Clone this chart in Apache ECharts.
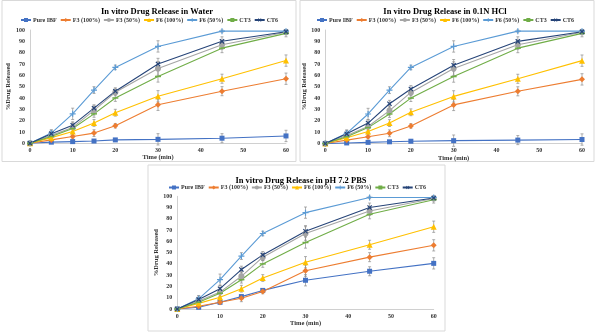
<!DOCTYPE html>
<html>
<head>
<meta charset="utf-8">
<script src="https://cdn.jsdelivr.net/npm/echarts@6/dist/echarts.min.js"></script>
<style>
html,body{margin:0;padding:0;background:#fff;}
#c{width:596px;height:333px;}
</style>
</head>
<body>
<div id="c"></div>
<script>
var times = [0, 5, 10, 15, 20, 30, 45, 60];
var seriesNames = ['Pure IBF', 'F3 (100%)', 'F3 (50%)', 'F6 (100%)', 'F6 (50%)', 'CT3', 'CT6'];
var panelTitles = ['In vitro Drug Release in Water', 'In vitro Drug Release in 0.1N HCl', 'In vitro Drug Release in pH 7.2 PBS'];
var yTicks = [0, 10, 20, 30, 40, 50, 60, 70, 80, 90, 100];

// Water
var waterPureIBF = [0, 1, 1.5, 2, 3, 3.5, 4.5, 6.5];
var waterF3_100 = [0, 3, 6, 9, 15.5, 34, 46, 57];
var waterF3_50 = [0, 7, 14, 29, 45, 66, 87, 98];
var waterF6_100 = [0, 5, 10.5, 18, 27, 41.5, 57, 73];
var waterF6_50 = [0, 9, 26, 47, 67, 85.5, 99, 99];
var waterCT3 = [0, 6, 13, 26, 40, 59, 84, 97];
var waterCT6 = [0, 8.5, 16, 31, 46, 70, 90, 98.5];

// 0.1N HCl
var hclPureIBF = [0, 0.5, 1, 1.5, 2, 2.5, 3, 3.5];
var hclF3_100 = [0, 3, 6, 9, 15.5, 34, 46, 56.5];
var hclF3_50 = [0, 7, 15, 29, 45, 66, 87, 98];
var hclF6_100 = [0, 5, 10.5, 18, 27.5, 41.5, 57, 73];
var hclF6_50 = [0, 9, 26, 47, 67, 85.5, 99, 99];
var hclCT3 = [0, 6, 14, 26, 40, 59, 84, 97];
var hclCT6 = [0, 8.5, 18, 35, 48, 69, 90, 98.5];

// pH 7.2 PBS
var pbsPureIBF = [0, 1.5, 6, 11, 16.5, 25.5, 33.5, 40.5];
var pbsF3_100 = [0, 2.5, 6, 9.5, 15.5, 34, 46, 56.5];
var pbsF3_50 = [0, 7, 15, 29, 46, 67, 87, 98];
var pbsF6_100 = [0, 5, 10.5, 18, 27.5, 41.5, 57, 73];
var pbsF6_50 = [0, 9, 26, 47, 67, 85.5, 99, 99];
var pbsCT3 = [0, 6, 14, 26, 40, 59, 84, 97];
var pbsCT6 = [0, 8.5, 18, 35, 48, 69, 90, 98.5];

// standard deviations (error bars)
var errPureIBF = [0, 1, 1, 1, 1, 5, 4, 5];
var errF3_100 = [0, 1, 2, 3, 2, 5, 4, 5];
var errF3_50 = [0, 3, 4, 4, 3, 6, 4, 2];
var errF6_100 = [0, 2, 2, 3, 3, 5, 4, 5];
var errF6_50 = [0, 3, 5, 3, 2, 5, 1, 1];
var errCT3 = [0, 2, 3, 3, 3, 5, 4, 3];
var errCT6 = [0, 3, 3, 3, 3, 5, 4, 2];

var panelData = [
  [waterPureIBF, waterF3_100, waterF3_50, waterF6_100, waterF6_50, waterCT3, waterCT6],
  [hclPureIBF, hclF3_100, hclF3_50, hclF6_100, hclF6_50, hclCT3, hclCT6],
  [pbsPureIBF, pbsF3_100, pbsF3_50, pbsF6_100, pbsF6_50, pbsCT3, pbsCT6]
];
var errData = [errPureIBF, errF3_100, errF3_50, errF6_100, errF6_50, errCT3, errCT6];

var colors = ['#4472C4', '#ED7D31', '#A5A5A5', '#FFC000', '#5B9BD5', '#70AD47', '#264478'];
var plusPath = 'path://M4,0h2v4h4v2h-4v4h-2v-4h-4v-2h4z';
var symbols = ['rect', 'diamond', 'circle', 'triangle', plusPath, 'rect', plusPath];
var symbolSizes = [5, 6, 6, 6, 6, [6, 1.5], 6];
var symbolRotates = [0, 0, 0, 0, 0, 0, 45];

var FONT = 'Liberation Serif';
var grids = [
  {left: 30, top: 30, width: 256, height: 113.3},
  {left: 325.3, top: 30, width: 256.7, height: 113.5},
  {left: 177.3, top: 196.3, width: 256.4, height: 112.7}
];
var titlePos = [[152, 2.5], [440, 2.5], [296, 171.5]];
var legendPos = [[20, 17], [316, 17], [168, 184.5]];
var boxes = [[2, 0.5, 294, 161], [300, 0.5, 294, 161], [148, 165, 297, 166]];

var option = {
  animation: false,
  backgroundColor: '#fff',
  color: colors,
  title: [],
  legend: [],
  grid: grids,
  xAxis: [],
  yAxis: [],
  series: [],
  graphic: []
};

for (var p = 0; p < 3; p++) {
  option.title.push({
    text: panelTitles[p], left: titlePos[p][0], top: titlePos[p][1], textAlign: 'center',
    textStyle: {fontFamily: FONT, fontWeight: 'bold', fontSize: 8.5, color: '#000'}
  });
  option.legend.push({
    data: seriesNames, left: legendPos[p][0], top: legendPos[p][1], width: 320,
    itemWidth: 10, itemHeight: 5, itemGap: 3, padding: 0,
    textStyle: {fontFamily: FONT, fontWeight: 'bold', fontSize: 6, color: '#333', padding: [0, 0, 0, -3]}
  });
  option.xAxis.push({
    type: 'value', gridIndex: p, min: 0, max: 60, interval: 10,
    name: 'Time (min)', nameLocation: 'middle', nameGap: 9,
    nameTextStyle: {fontFamily: FONT, fontWeight: 'bold', fontSize: 6.5, color: '#333'},
    axisLine: {show: true, onZero: false, lineStyle: {color: '#d0d0d0', width: 1}},
    axisTick: {show: false},
    splitLine: {show: false},
    axisLabel: {fontFamily: FONT, fontWeight: 'bold', fontSize: 6, color: '#333', margin: 4}
  });
  option.yAxis.push({
    type: 'value', gridIndex: p, min: yTicks[0], max: yTicks[yTicks.length - 1], interval: 10,
    name: '%Drug Released', nameLocation: 'middle', nameGap: 16,
    nameTextStyle: {fontFamily: FONT, fontWeight: 'bold', fontSize: 6.5, color: '#333'},
    axisLine: {show: true, lineStyle: {color: '#d0d0d0', width: 1}},
    axisTick: {show: false},
    splitLine: {show: false},
    axisLabel: {fontFamily: FONT, fontWeight: 'bold', fontSize: 6, color: '#333', margin: 5}
  });
  option.graphic.push({
    type: 'rect', shape: {x: boxes[p][0], y: boxes[p][1], width: boxes[p][2], height: boxes[p][3]},
    style: {fill: 'none', stroke: '#d9d9d9', lineWidth: 1}, silent: true, z: -10
  });

  for (var s = 0; s < seriesNames.length; s++) {
    var vals = panelData[p][s];
    var pts = times.map(function (t, i) { return [t, vals[i]]; });
    var ebs = times.map(function (t, i) { return [t, vals[i], errData[s][i]]; });
    option.series.push({
      type: 'custom', name: 'err', xAxisIndex: p, yAxisIndex: p, silent: true, z: 1,
      data: ebs,
      renderItem: function (params, api) {
        var x = api.value(0), y = api.value(1), e = api.value(2);
        if (!e) return null;
        var lo = api.coord([x, y - e]);
        var hi = api.coord([x, y + e]);
        var st = {stroke: '#8c8c8c', lineWidth: 0.7};
        return {type: 'group', children: [
          {type: 'line', shape: {x1: lo[0], y1: lo[1], x2: hi[0], y2: hi[1]}, style: st},
          {type: 'line', shape: {x1: lo[0] - 1.5, y1: lo[1], x2: lo[0] + 1.5, y2: lo[1]}, style: st},
          {type: 'line', shape: {x1: hi[0] - 1.5, y1: hi[1], x2: hi[0] + 1.5, y2: hi[1]}, style: st}
        ]};
      }
    });
    option.series.push({
      type: 'line', name: seriesNames[s], xAxisIndex: p, yAxisIndex: p, z: 2,
      data: pts,
      symbol: symbols[s], symbolSize: symbolSizes[s], symbolRotate: symbolRotates[s],
      showAllSymbol: true,
      lineStyle: {color: colors[s], width: 1.1},
      itemStyle: {color: colors[s], borderWidth: 0}
    });
  }
}

var chart = echarts.init(document.getElementById('c'), null, {renderer: 'canvas'});
chart.setOption(option);
</script>
</body>
</html>
